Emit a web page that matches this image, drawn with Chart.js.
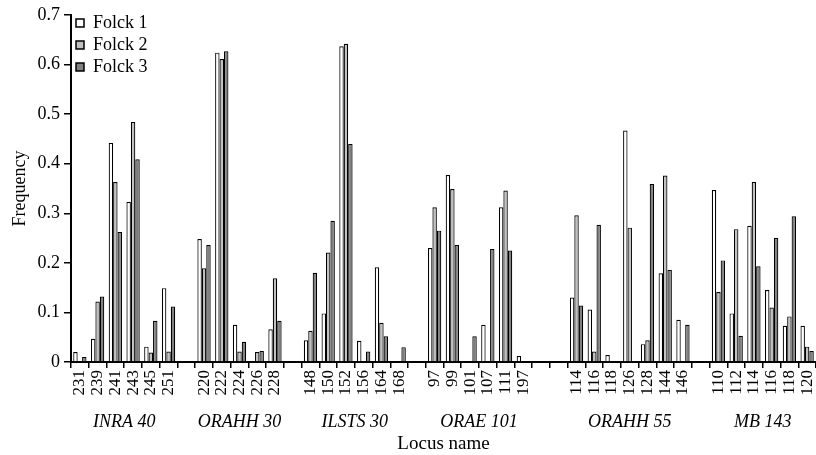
<!DOCTYPE html>
<html>
<head>
<meta charset="utf-8">
<script src="https://cdn.jsdelivr.net/npm/chart.js@4.4.1/dist/chart.umd.min.js"></script>
<style>
  html, body { margin: 0; padding: 0; background: #fff; }
  #wrap { width: 816px; height: 455px; }
</style>
</head>
<body>
<div id="wrap"><canvas id="chart" width="816" height="455"></canvas></div>
<script>
// allele labels on the x axis ('' = empty spacer slot between loci)
const alleleLabels = [
  '231','239','241','243','245','251', '',
  '220','222','224','226','228', '',
  '148','150','152','156','164','168', '',
  '97','99','101','107','111','197', '', '',
  '114','116','118','126','128','144','146', '',
  '110','112','114','116','118','120'
];

// allele frequencies per population (null = no bar)
const folck1 = [
  0.020, 0.047, 0.442, 0.323, 0.031, 0.149, null,
  0.248, 0.624, 0.075, null, 0.066, null,
  0.044, 0.098, 0.637, 0.043, 0.191, null, null,
  0.230, 0.377, null, 0.075, 0.312, 0.012, null, null,
  0.130, 0.106, 0.014, 0.467, 0.036, 0.179, 0.085, null,
  0.347, 0.098, 0.275, 0.145, 0.073, 0.073
];
const folck2 = [
  null, 0.122, 0.363, 0.484, 0.019, 0.021, null,
  0.189, 0.611, 0.021, 0.020, 0.169, null,
  0.063, 0.221, 0.642, null, 0.079, null, null,
  0.312, 0.349, null, null, 0.346, null, null, null,
  0.296, 0.021, null, 0.271, 0.044, 0.376, null, null,
  0.141, 0.268, 0.363, 0.110, 0.092, 0.031
];
const folck3 = [
  0.010, 0.132, 0.262, 0.409, 0.083, 0.112, null,
  0.236, 0.627, 0.041, 0.022, 0.083, null,
  0.180, 0.285, 0.440, 0.021, 0.052, 0.030, null,
  0.265, 0.236, 0.052, 0.228, 0.225, null, null, null,
  0.114, 0.277, null, null, 0.359, 0.186, 0.075, null,
  0.205, 0.053, 0.193, 0.250, 0.294, 0.022
];

const seriesNames = ['Folck 1', 'Folck 2', 'Folck 3'];
const seriesValues = [folck1, folck2, folck3];
const seriesFills = ['#ffffff', '#c0c0c0', '#808080'];

// locus names and the first/last slot each one covers
const locusNames = ['INRA 40', 'ORAHH 30', 'ILSTS 30', 'ORAE 101', 'ORAHH 55', 'MB 143'];
const locusFirst = [0, 7, 13, 20, 28, 36];
const locusLast = [5, 11, 18, 25, 34, 41];

const yTicks = [0, 0.1, 0.2, 0.3, 0.4, 0.5, 0.6, 0.7];

const SERIF = '"Liberation Serif", "Times New Roman", serif';
Chart.defaults.font.family = SERIF;
Chart.defaults.color = '#000';

// italic locus names under the allele labels
const locusLabels = {
  id: 'locusLabels',
  afterDraw(chart) {
    const { ctx, chartArea } = chart;
    const x = chart.scales.x;
    ctx.save();
    ctx.font = 'italic 18px ' + SERIF;
    ctx.fillStyle = '#000';
    ctx.textAlign = 'center';
    ctx.textBaseline = 'middle';
    locusNames.forEach((name, i) => {
      const cx = (x.getPixelForValue(locusFirst[i]) + x.getPixelForValue(locusLast[i])) / 2;
      ctx.fillText(name, cx, chartArea.bottom + 60);
    });
    ctx.restore();
  }
};

// push the in-plot legend down a little from the top edge
const legendNudge = {
  id: 'legendNudge',
  afterLayout(chart) {
    const lg = chart.legend;
    if (!lg) return;
    lg.top += 10; lg.bottom += 10;
    lg.left += 1; lg.right += 1;
  }
};

const ctx = document.getElementById('chart').getContext('2d');
new Chart(ctx, {
  type: 'bar',
  data: {
    labels: alleleLabels,
    datasets: seriesNames.map((name, i) => ({
      label: name,
      data: seriesValues[i],
      backgroundColor: seriesFills[i],
      borderColor: '#000',
      borderWidth: 1.2
    }))
  },
  options: {
    responsive: false,
    animation: false,
    layout: { padding: { top: 15, right: 0, bottom: 0, left: 0 } },
    datasets: { bar: { categoryPercentage: 0.75, barPercentage: 1 } },
    plugins: {
      tooltip: { enabled: false },
      legend: {
        position: 'chartArea',
        align: 'start',
        labels: {
          boxWidth: 8, boxHeight: 8, padding: 4,
          font: { size: 18 }, color: '#000',
          generateLabels: (chart) =>
            Chart.defaults.plugins.legend.labels.generateLabels(chart).map(l => ({ ...l, lineWidth: 1.5 }))
        }
      }
    },
    scales: {
      x: {
        grid: { display: true, drawOnChartArea: false, offset: true, tickLength: 6, color: '#000', lineWidth: 1.5 },
        border: { display: true, color: '#000', width: 2 },
        ticks: { autoSkip: false, minRotation: 90, maxRotation: 90, padding: 2, font: { size: 17 }, color: '#000' },
        title: { display: true, text: 'Locus name', font: { size: 19 }, color: '#000', padding: { top: 0, bottom: 0 } },
        afterFit: (s) => { s.height = 93; s.paddingLeft = 0; s.paddingRight = 0; }
      },
      y: {
        min: 0, max: 0.7,
        grid: { drawOnChartArea: false, tickLength: 7, color: '#000', lineWidth: 1.5 },
        border: { color: '#000', width: 2 },
        afterBuildTicks: (s) => { s.ticks = yTicks.map(v => ({ value: v })); },
        ticks: { padding: 4, font: { size: 18 }, color: '#000', callback: (v) => String(Math.round(v * 10) / 10) },
        title: { display: true, text: 'Frequency', font: { size: 18 }, color: '#000', padding: { top: 9 } },
        afterFit: (s) => { s.width = 71; }
      }
    }
  },
  plugins: [locusLabels, legendNudge]
});
</script>
</body>
</html>
